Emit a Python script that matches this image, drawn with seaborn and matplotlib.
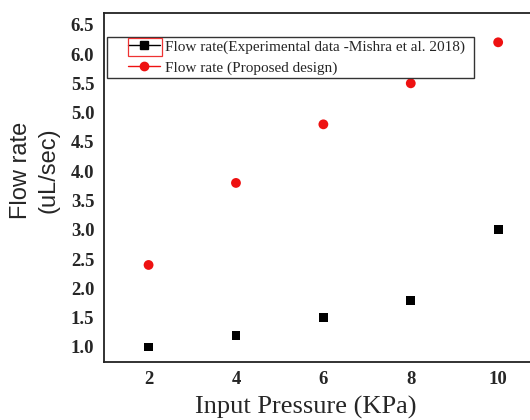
import matplotlib
matplotlib.use("Agg")
import matplotlib.pyplot as plt
import seaborn as sns
import pandas as pd
from matplotlib.lines import Line2D
from matplotlib.patches import Rectangle
from matplotlib.legend_handler import HandlerLine2D

pressure = [2, 4, 6, 8, 10]
flow_experimental = [1.0, 1.2, 1.5, 1.8, 3.0]
flow_proposed = [2.4, 3.8, 4.8, 5.5, 6.2]
series_names = ["Flow rate(Experimental data -Mishra et al. 2018)",
                "Flow rate (Proposed design)"]
x_ticks = [2, 4, 6, 8, 10]
y_ticks = [1.0, 1.5, 2.0, 2.5, 3.0, 3.5, 4.0, 4.5, 5.0, 5.5, 6.0, 6.5]

df = pd.DataFrame({
    "pressure": pressure + pressure,
    "flow": flow_experimental + flow_proposed,
    "series": [series_names[0]] * len(pressure) + [series_names[1]] * len(pressure),
})

sns.set_style("white")
fig = plt.figure(figsize=(5.3, 4.2), dpi=100)
ax_w_px = 530 - 104 + 5.3
ax_h_px = 362 - 13
ax = fig.add_axes([104 / 530, 58 / 420, ax_w_px / 530, ax_h_px / 420])

sns.scatterplot(data=df[df.series == series_names[0]], x="pressure", y="flow",
                marker="s", color="black", s=40, edgecolor="none", ax=ax, legend=False)
sns.scatterplot(data=df[df.series == series_names[1]], x="pressure", y="flow",
                marker="o", color="#ee1111", s=50, edgecolor="none", ax=ax, legend=False)

ax.set_xlim(0.98, 10.85)
ax.set_ylim(0.744, 6.70)
ax.set_xticks(x_ticks)
ax.set_xticklabels([str(t) for t in x_ticks])
ax.set_yticks(y_ticks)
ax.set_yticklabels([f"{t:.1f}" for t in y_ticks])
ax.tick_params(axis="x", length=0, pad=6.5)
ax.tick_params(axis="y", length=0, pad=7)
for lab in ax.get_xticklabels() + ax.get_yticklabels():
    lab.set_family("Liberation Serif")
    lab.set_fontweight("bold")
    lab.set_fontsize(13.5)

for side in ["left", "bottom", "top"]:
    ax.spines[side].set_color("#222222")
    ax.spines[side].set_linewidth(1.3)
ax.spines["right"].set_visible(False)

ax.set_xlabel("Input Pressure (KPa)", family="Liberation Serif", fontsize=19)
ax.xaxis.set_label_coords((306 - 104) / ax_w_px, -(407 - 362) / ax_h_px)
ax.xaxis.label.set_va("center")
ax.set_ylabel("")
fig.text(35 / 530, 1 - 170 / 420, "Flow rate\n(uL/sec)", rotation=90,
         family="Liberation Sans", fontsize=17, ha="center", va="center",
         multialignment="center", linespacing=1.3)

handles = [
    Line2D([], [], color="black", lw=1, marker="s", markersize=5.5),
    Line2D([], [], color="#ee1111", lw=1, marker="o", markersize=6),
]
fs_px = 11 * 100 / 72
hmap = {h: HandlerLine2D(xpad=18 / fs_px) for h in handles}
leg = ax.legend(handles, series_names, loc="upper left", mode="expand",
                bbox_to_anchor=(3 / ax_w_px, 1 - 62 / ax_h_px, 367 / ax_w_px, 38 / ax_h_px),
                frameon=True, fancybox=False, framealpha=1, edgecolor="#333333",
                prop={"family": "Liberation Serif", "size": 11},
                handlelength=50 / fs_px, handletextpad=0.33, borderpad=0.2,
                labelspacing=0.45, borderaxespad=0, handler_map=hmap)
leg.get_frame().set_linewidth(1.0)

fig.patches.append(Rectangle((128 / 530, 1 - 56 / 420), 34 / 530, 18 / 420,
                             transform=fig.transFigure, fill=False,
                             edgecolor="#ee3333", linewidth=0.9))

fig.savefig("out.png", dpi=100)
